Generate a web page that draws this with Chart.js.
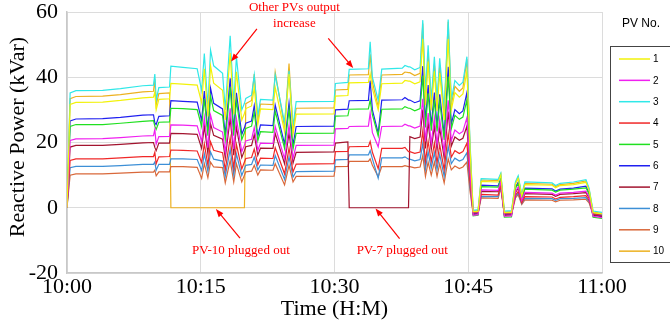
<!DOCTYPE html>
<html><head><meta charset="utf-8">
<script src="https://cdn.jsdelivr.net/npm/chart.js@4/dist/chart.umd.min.js"></script>
<style>html,body{margin:0;padding:0;background:#fff;}canvas{display:block;}</style>
</head><body>
<canvas id="c" width="670" height="323" style="width:670px;height:323px"></canvas>
<script>
// minutes after 10:00
const minutes = [0,0.35,1,4,6,8.5,9.7,9.85,10,10.3,11.5,11.65,13,14.6,15.1,15.4,15.8,16.1,16.45,17.45,17.75,18.3,18.7,19,19.6,19.9,20.05,20.7,21,21.4,21.7,23.1,23.35,24.4,24.9,25.35,25.7,29.95,30.1,31.5,31.65,33.8,34,34.25,34.9,35.3,37.6,37.9,38.3,38.45,39,39.6,39.9,40.2,40.5,40.85,41.2,41.5,41.8,42.3,42.75,43.1,43.5,44,44.4,44.85,45.2,45.55,46.1,46.45,48.35,48.65,49.05,49.85,50.3,50.6,51,51.35,54.4,54.8,55.3,56.8,58.2,58.55,59,60];

const pv1 = [0,31.7,32.3,32.4,32.9,33.7,33.9,35.5,30.0,33.2, 33.4,38.1,37.9,37.6,32.2,42.6,28.0,43.5,38.2,36.0, 26.9,47.4,28.6,41.7,26.9,28.9,30.4,31.2,36.8,25.5, 30.3,30.1,36.9,23.3,41.0,22.6,28.7,28.8,34.2,34.4, 38.3,38.4,41.0,36.5,30.0,38.0,38.2,39.0,38.8,38.8, 38.0,38.6,51.7,31.4,44.8,29.8,41.8,29.7,41.3,26.9, 51.7,30.0,35.3,33.9,34.9,41.8,17.9,-1.2,-1.1,8.1, 7.9,10.0,-1.5,-1.4,7.3,9.0,3.6,7.1,6.9,6.1, 6.8,7.1,7.8,5.4,-1.5,-1.9];
const pv2 = [0,20.6,21.1,21.2,21.5,22.0,22.1,24.0,19.5,21.8, 21.9,25.4,25.3,25.1,20.3,27.7,18.4,28.4,24.6,23.2, 17.0,30.5,18.0,27.3,17.2,19.2,20.5,21.0,24.6,17.6, 19.8,19.7,24.9,15.0,25.2,15.1,19.1,19.2,24.2,24.3, 24.9,25.0,29.0,23.0,18.7,24.9,25.0,25.6,25.1,25.1, 24.4,25.0,33.4,20.3,29.0,19.7,27.6,19.4,27.1,17.0, 32.9,20.6,23.8,22.7,23.4,27.6,11.3,-2.3,-2.1,5.5, 5.3,7.9,-2.6,-2.5,5.1,6.4,2.3,4.7,4.5,3.9, 4.5,4.7,5.1,3.4,-2.6,-3.0];
const pv3 = [0,35.2,35.9,36.0,36.5,37.4,37.6,41.0,33.0,36.8, 37.0,43.4,43.0,42.6,36.0,47.3,31.0,48.3,43.5,41.2, 30.0,52.7,32.0,46.3,30.0,32.0,33.5,34.5,40.7,28.0, 33.2,33.0,40.7,26.0,42.0,25.0,32.5,32.6,38.1,38.4, 42.4,42.6,50.9,40.0,33.0,42.5,42.8,43.6,43.2,43.2, 42.3,43.0,57.5,35.0,49.8,33.0,46.3,33.0,45.8,30.0, 57.7,33.0,39.0,37.5,38.5,46.3,20.0,-0.8,-0.6,8.9, 8.7,10.6,-1.0,-0.9,8.0,9.8,4.0,7.9,7.6,6.8, 7.5,7.9,8.6,6.0,-1.0,-1.4];
const pv4 = [0,14.5,15.0,15.0,15.3,15.7,15.7,17.0,13.5,15.6, 15.7,17.7,17.6,17.4,13.9,19.6,13.1,20.2,17.6,16.9, 11.6,21.4,12.2,19.4,11.9,14.0,15.1,15.4,18.0,13.2, 15.2,15.1,18.4,10.4,18.2,11.0,13.4,13.5,17.2,17.3, 18.7,18.8,20.3,17.0,12.0,18.2,18.2,18.5,17.2,17.2, 16.7,17.1,23.5,14.2,20.4,14.1,19.8,13.8,19.3,11.6, 22.7,15.5,17.5,16.6,17.2,19.8,7.7,-1.6,-1.5,4.1, 3.9,6.8,-1.9,-1.8,3.9,5.0,1.5,3.4,3.3,2.7, 3.2,3.4,3.7,2.3,-1.9,-2.3];
const pv5 = [0,24.9,25.5,25.5,25.9,26.5,26.7,25.0,24.0,26.2, 26.3,30.5,30.4,30.1,24.9,33.4,22.1,34.2,29.8,28.3, 20.8,37.0,22.1,32.9,20.9,23.0,24.3,25.0,29.3,20.6, 23.3,23.1,29.6,18.2,30.1,18.0,22.8,22.9,28.1,28.2, 30.2,30.3,33.0,28.5,22.0,30.2,30.3,31.0,30.5,30.5, 29.7,30.4,40.5,24.6,35.1,23.6,33.1,23.4,32.6,20.8, 40.2,24.2,28.3,27.1,27.8,33.1,13.9,-2.5,-2.3,6.5, 6.3,8.7,-2.9,-2.8,6.0,7.4,2.8,5.7,5.4,4.8, 5.4,5.7,6.1,4.2,-2.9,-3.3];
const pv6 = [0,26.6,27.2,27.3,27.7,28.4,28.5,26.0,25.5,28.0, 28.2,32.8,32.6,32.4,26.8,35.8,23.6,36.6,32.0,30.3, 22.4,39.7,23.8,35.2,22.5,24.5,25.9,26.6,31.3,21.9, 25.4,25.2,31.5,19.5,32.1,19.2,24.9,25.0,30.0,30.2, 32.8,32.9,39.0,30.0,22.9,33.0,33.1,33.8,33.0,33.0, 32.2,32.8,43.4,26.4,37.6,25.2,35.3,25.0,34.8,22.4, 43.2,25.7,30.1,28.8,29.7,35.3,14.9,-1.8,-1.6,6.9, 6.7,9.0,-2.0,-1.9,6.3,7.8,3.0,6.0,5.8,5.1, 5.7,6.0,6.6,4.5,-2.0,-2.4];
const pv7 = [0,18.6,19.1,19.1,19.4,19.9,20.0,18.5,17.5,19.8, 19.8,22.8,22.7,22.5,18.2,25.0,16.6,25.7,22.2,21.0, 15.2,27.5,16.1,24.7,15.4,17.5,18.7,19.1,22.4,16.1, 18.3,18.2,22.8,13.5,22.9,13.7,17.0,17.1,19.8,20.2, 0,0,0,0,0,0,0,0,0,21.8, 21.2,21.7,30.1,18.2,26.2,17.8,25.0,17.6,24.5,15.2, 29.5,18.9,21.7,20.7,21.3,25.0,10.1,-2.0,-1.9,5.0, 4.9,7.6,-2.3,-2.2,4.7,6.0,2.0,4.3,4.1,3.5, 4.1,4.3,4.6,3.0,-2.3,-2.7];
const pv8 = [0,12.3,12.7,12.7,12.9,13.3,13.3,14.0,11.5,13.3, 13.3,15.0,15.0,14.8,11.4,16.5,11.2,17.1,14.9,14.3, 9.6,17.9,10.1,16.5,9.9,12.0,13.0,13.3,15.5,11.6, 13.1,13.0,16.0,8.7,15.6,9.4,11.1,11.2,14.7,14.8, 16.2,16.2,17.5,15.0,9.1,15.3,15.3,15.6,14.9,14.9, 14.4,14.8,19.7,11.9,17.2,12.1,16.9,11.7,16.4,9.6, 18.8,13.5,15.2,14.3,14.8,16.9,6.4,-1.4,-1.3,3.5, 3.4,6.4,-1.7,-1.6,3.5,4.5,1.3,2.9,2.8,2.3, 2.8,2.9,3.1,1.9,-1.7,-2.1];
const pv9 = [0,10.0,10.4,10.4,10.6,10.9,10.9,11.5,9.8,11.0, 11.0,12.6,12.6,12.4,9.0,13.5,9.2,14.0,12.5,12.3, 7.6,14.5,7.9,13.5,7.9,10.0,11.0,11.2,13.0,10.0, 11.6,11.5,13.5,7.0,13.0,7.9,9.6,9.7,12.6,12.7, 14.2,14.2,15.0,13.0,9.5,12.6,12.6,12.9,12.6,12.6, 12.2,12.5,16.0,9.6,14.0,10.0,14.0,9.6,13.5,7.6, 15.0,11.6,12.8,12.0,12.5,14.0,5.0,-1.9,-1.8,3.0, 2.9,6.0,-2.2,-2.1,3.0,4.0,1.0,2.4,2.3,1.8, 2.3,2.4,2.6,1.5,-2.2,-2.6];
const pv10 = [0,33.4,34.1,34.2,34.7,35.5,35.7,39.5,31.5,35.0, 35.2,0,0,0,0,0,0,0,0,0, 0,0,0,0,0,0,31.9,32.9,41.0,26.7, 31.8,31.6,41.5,24.7,44.2,23.8,30.5,30.6,36.1,36.3, 40.7,40.8,47.0,38.5,31.0,40.7,40.9,41.6,41.4,41.4, 40.5,41.2,56.5,33.2,47.3,31.4,44.0,31.4,43.5,28.4, 57.0,31.5,37.2,35.7,36.7,45.5,19.0,-1.0,-0.9,8.5, 8.3,10.3,-1.3,-1.2,7.7,9.4,3.8,7.5,7.2,6.5, 7.1,7.5,8.2,5.7,-1.3,-1.7];

const pvNames = ['1','2','3','4','5','6','7','8','9','10'];
const pvSeries = [pv1,pv2,pv3,pv4,pv5,pv6,pv7,pv8,pv9,pv10];
const pvColors = ['#f2f20a','#f020f0','#30e8e8','#f02828','#20e020','#2020f0','#a2142f','#3d8fd6','#d9683a','#edb120'];
const timeLabels = ['10:00','10:15','10:30','10:45','11:00'];
const yTicks = [-20,0,20,40,60];

// annotations in data units (minutes, kVar)
const notes = [
  {text:'Other PVs output', x:25.5, y:61.4},
  {text:'increase', x:25.5, y:56.5},
  {text:'PV-10 plugged out', x:19.5, y:-13.0},
  {text:'PV-7 plugged out', x:37.6, y:-13.0}
];
const arrows = [
  {x0:21.3, y0:54.8, x1:18.4, y1:44.8},
  {x0:29.3, y0:51.9, x1:32.1, y1:42.8},
  {x0:19.4, y0:-9.3, x1:16.7, y1:-0.4},
  {x0:37.3, y0:-9.5, x1:34.6, y1:-0.2}
];

const serif = '"Liberation Serif","Times New Roman",serif';
const sans = '"Liberation Sans",Arial,sans-serif';

const extras = {
  id:'extras',
  afterDraw(chart){
    const ctx = chart.ctx, xs = chart.scales.x, ys = chart.scales.y;
    ctx.save();
    // annotations
    ctx.fillStyle = '#ff0000';
    ctx.font = '13px ' + serif;
    ctx.textAlign = 'center'; ctx.textBaseline = 'middle';
    notes.forEach(n => ctx.fillText(n.text, xs.getPixelForValue(n.x), ys.getPixelForValue(n.y)));
    ctx.strokeStyle = '#ff0000'; ctx.lineWidth = 1.2;
    arrows.forEach(a => {
      const x0 = xs.getPixelForValue(a.x0), y0 = ys.getPixelForValue(a.y0);
      const x1 = xs.getPixelForValue(a.x1), y1 = ys.getPixelForValue(a.y1);
      const ang = Math.atan2(y1-y0, x1-x0), L = 8, W = 3;
      ctx.beginPath(); ctx.moveTo(x0,y0);
      ctx.lineTo(x1 - Math.cos(ang)*L*0.8, y1 - Math.sin(ang)*L*0.8); ctx.stroke();
      ctx.beginPath(); ctx.moveTo(x1,y1);
      ctx.lineTo(x1 - Math.cos(ang)*L - Math.sin(ang)*W, y1 - Math.sin(ang)*L + Math.cos(ang)*W);
      ctx.lineTo(x1 - Math.cos(ang)*L + Math.sin(ang)*W, y1 - Math.sin(ang)*L - Math.cos(ang)*W);
      ctx.closePath(); ctx.fill();
    });
    // legend
    const lx = chart.chartArea.right + 8;
    ctx.fillStyle = '#000';
    ctx.font = '12px ' + sans;
    ctx.textAlign = 'center'; ctx.textBaseline = 'middle';
    ctx.fillText('PV No.', lx + 31, 24);
    ctx.strokeStyle = '#444'; ctx.lineWidth = 1;
    ctx.strokeRect(lx + 0.5, 46.5, 80, 216);
    ctx.font = '10px ' + sans; ctx.textAlign = 'left';
    chart.data.datasets.forEach((d, i) => {
      const y = 59 + i * 21.35;
      ctx.strokeStyle = d.borderColor; ctx.lineWidth = 1.5;
      ctx.beginPath(); ctx.moveTo(lx + 9, y); ctx.lineTo(lx + 40, y); ctx.stroke();
      ctx.fillStyle = '#000';
      ctx.fillText(d.label, lx + 43, y + 0.5);
    });
    ctx.restore();
  }
};

new Chart(document.getElementById('c'), {
  type: 'line',
  data: {
    datasets: pvSeries.map((vals, i) => ({
      label: pvNames[i],
      data: minutes.map((m, k) => ({x: m, y: vals[k]})),
      borderColor: pvColors[i],
      borderWidth: 1.2,
      pointRadius: 0,
      tension: 0,
      fill: false
    }))
  },
  options: {
    responsive: false,
    animation: false,
    layout: {padding: {top: 12, right: 68, bottom: 0, left: 0}},
    plugins: {legend: {display: false}, tooltip: {enabled: false}},
    scales: {
      x: {
        type: 'linear', min: 0, max: 60,
        afterBuildTicks: s => { s.ticks = [0,15,30,45,60].map(v => ({value: v})); },
        ticks: {callback: (v, i) => timeLabels[i], color: '#000', font: {family: serif, size: 22}, padding: 1, maxRotation: 0, autoSkip: false},
        grid: {color: '#dcdcdc', drawTicks: false},
        border: {color: '#c8c8c8', width: 1.5},
        title: {display: true, text: 'Time (H:M)', color: '#000', font: {family: serif, size: 22}, padding: {top: 0, bottom: 1}},
        afterFit: s => { s.height = 50; s.paddingLeft = 0; s.paddingRight = 0; }
      },
      y: {
        min: -20, max: 60,
        afterBuildTicks: s => { s.ticks = yTicks.map(v => ({value: v})); },
        ticks: {color: '#000', font: {family: serif, size: 22}, padding: 9},
        grid: {color: '#dcdcdc', drawTicks: false},
        border: {color: '#c8c8c8', width: 1.5},
        title: {display: true, text: '  Reactive Power (kVar)', color: '#000', font: {family: serif, size: 22}, padding: {top: 5, bottom: 0}},
        afterFit: s => { s.width = 67; s.paddingTop = 0; s.paddingBottom = 0; }
      }
    }
  },
  plugins: [extras]
});
</script>
</body></html>
